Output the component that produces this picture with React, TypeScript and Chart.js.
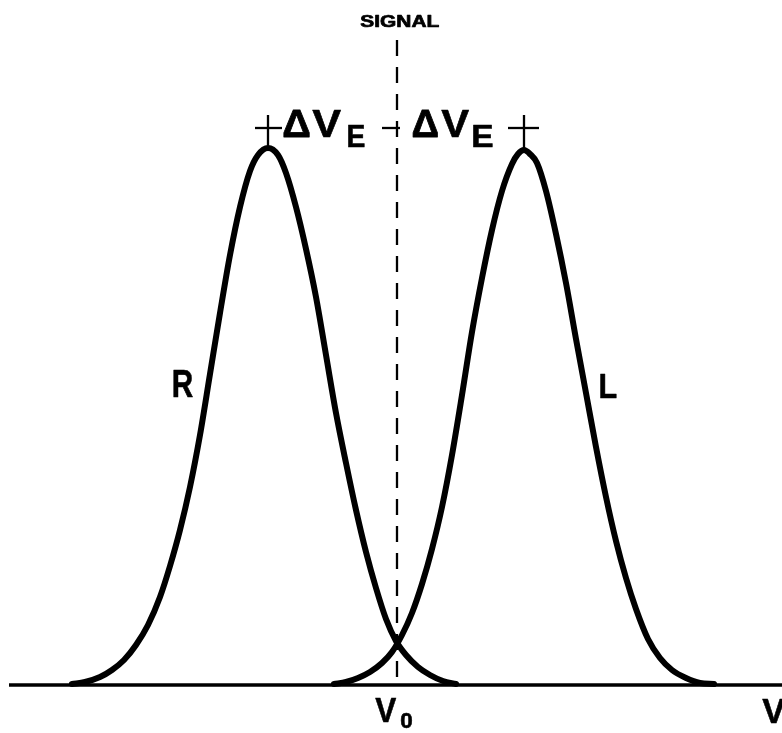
import React, { useEffect, useRef } from "react";
import { Chart, registerables } from "chart.js";

Chart.register(...registerables);

// Horizontal axis: voltage position (in drawing units); vertical: response height above baseline.
const rCurveX = [72, 85, 100, 112, 124, 136, 148, 160, 170, 180, 190, 200, 210, 220, 230, 240, 250, 258, 268, 278, 286, 296, 306, 316, 326, 336, 346, 356, 366, 376, 386, 396, 406, 418, 430, 443, 456];
const rCurveY = [1, 3, 8, 15, 25, 40, 60, 88, 119, 155, 198, 250, 311, 372, 430, 478, 514, 530, 537, 530, 512, 478, 436, 388, 330, 272, 222, 175, 133, 97, 66, 44, 30, 18, 10, 4, 1];

const lCurveX = [334, 346, 358, 370, 382, 392, 402, 412, 422, 432, 442, 452, 462, 472, 482, 492, 502, 512, 518, 524, 530, 537, 546, 556, 566, 576, 586, 596, 606, 616, 626, 636, 648, 660, 672, 686, 700, 714];
const lCurveY = [1, 3, 7, 13, 22, 33, 50, 72, 101, 136, 178, 230, 290, 353, 407, 455, 494, 521, 531, 535, 531, 522, 494, 451, 402, 346, 292, 238, 188, 144, 107, 76, 46, 27, 15, 7, 2, 1];

const axisX = [9, 782];
const axisY = [0, 0];

const signalX = [397, 397];
const signalY = [645, 0];

const peakR = 268;
const peakL = 524;
const peakRHeight = 537;
const peakLHeight = 535;

const labelSignal = "SIGNAL";
const labelDelta = "\u0394";
const labelV = "V";
const labelE = "E";
const labelR = "R";
const labelL = "L";
const labelZero = "0";

const toPts = (xs: number[], ys: number[]) => xs.map((x, i) => ({ x, y: ys[i] }));

const FONT = '"Liberation Sans", Arial, "DejaVu Sans", sans-serif';

function fitText(
  ctx: CanvasRenderingContext2D,
  text: string,
  x0: number,
  x1: number,
  yTop: number,
  yBot: number,
  weight = "bold",
  extraStroke = 0
) {
  const probe = 100;
  ctx.font = `${weight} ${probe}px ${FONT}`;
  const m = ctx.measureText(text);
  const inkH = m.actualBoundingBoxAscent + m.actualBoundingBoxDescent;
  const size = (probe * (yBot - yTop - extraStroke)) / inkH;
  ctx.font = `${weight} ${size}px ${FONT}`;
  const m2 = ctx.measureText(text);
  const inkW = m2.actualBoundingBoxLeft + m2.actualBoundingBoxRight;
  const sx = (x1 - x0 - extraStroke) / inkW;
  ctx.save();
  ctx.translate(x0 + extraStroke / 2, yBot - extraStroke / 2 - m2.actualBoundingBoxDescent);
  ctx.scale(sx, 1);
  ctx.textAlign = "left";
  ctx.textBaseline = "alphabetic";
  ctx.fillText(text, m2.actualBoundingBoxLeft, 0);
  if (extraStroke > 0) {
    ctx.lineWidth = extraStroke;
    ctx.lineJoin = "round";
    ctx.strokeText(text, m2.actualBoundingBoxLeft, 0);
  }
  ctx.restore();
}

const annotations = {
  id: "annotations",
  afterDatasetsDraw(chart: any) {
    const { ctx, scales } = chart;
    const px = (v: number) => scales.x.getPixelForValue(v);
    const py = (v: number) => scales.y.getPixelForValue(v);
    ctx.save();
    ctx.fillStyle = "#000";
    ctx.strokeStyle = "#000";
    ctx.lineCap = "butt";
    ctx.lineWidth = 2.3;

    const seg = (xa: number, ya: number, xb: number, yb: number) => {
      ctx.beginPath();
      ctx.moveTo(px(xa), py(ya));
      ctx.lineTo(px(xb), py(yb));
      ctx.stroke();
    };
    // peak markers (+)
    seg(peakR, peakRHeight, peakR, 570);
    seg(255, 557, 282, 557);
    seg(382, 557, 400, 557);
    seg(peakL, peakLHeight, peakL, 570);
    seg(508, 557, 539, 557);

    const box = (t: string, xa: number, xb: number, hTop: number, hBot: number, w = "bold", s = 0) =>
      fitText(ctx, t, px(xa), px(xb), py(hTop), py(hBot), w, s);

    box(labelSignal, 360, 440, 670, 658, "bold", 0.7);
    box(labelDelta, 283, 310, 575, 548, "bold", 0.8);
    box(labelV, 312, 342, 575, 548, "bold", 0.6);
    box(labelE, 348, 365, 560, 538, "bold", 0.6);
    box(labelDelta, 412, 438, 575, 548, "bold", 0.8);
    box(labelV, 441, 470, 575, 548, "bold", 0.6);
    box(labelE, 473, 493, 560, 538, "bold", 0.6);
    box(labelR, 173, 193, 315, 288, "bold", 0.6);
    box(labelL, 600, 617, 312, 287, "bold", 0.6);
    box(labelV, 375, 397, -12, -37, "bold", 0.6);
    box(labelZero, 400, 413, -27, -43, "bold", 0.6);
    box(labelV, 762, 786, -13, -38, "bold", 0.6);
    ctx.restore();
  },
};

export default function App() {
  const ref = useRef<HTMLCanvasElement | null>(null);
  useEffect(() => {
    if (!ref.current) return;
    const chart = new Chart(ref.current, {
      type: "line",
      data: {
        datasets: [
          {
            label: "baseline",
            data: toPts(axisX, axisY),
            borderColor: "#000",
            borderWidth: 3.5,
            pointRadius: 0,
            tension: 0,
          },
          {
            label: "signal",
            data: toPts(signalX, signalY),
            borderColor: "#000",
            borderWidth: 2.3,
            borderDash: [16, 11],
            pointRadius: 0,
            tension: 0,
          },
          {
            label: "R",
            data: toPts(rCurveX, rCurveY),
            borderColor: "#000",
            borderWidth: 6,
            pointRadius: 0,
            cubicInterpolationMode: "monotone",
            borderJoinStyle: "round",
            borderCapStyle: "round",
          },
          {
            label: "L",
            data: toPts(lCurveX, lCurveY),
            borderColor: "#000",
            borderWidth: 6,
            pointRadius: 0,
            cubicInterpolationMode: "monotone",
            borderJoinStyle: "round",
            borderCapStyle: "round",
          },
        ],
      },
      options: {
        animation: false,
        responsive: false,
        devicePixelRatio: 1,
        layout: { padding: 0 },
        scales: {
          x: { type: "linear", min: 0, max: 782, display: false },
          y: { type: "linear", min: -48, max: 685, display: false },
        },
        plugins: {
          legend: { display: false },
          tooltip: { enabled: false },
        },
        elements: { line: { fill: false } },
      },
      plugins: [annotations],
    } as any);
    return () => chart.destroy();
  }, []);

  return (
    <div style={{ position: "absolute", left: 0, top: 0, width: 782, height: 733, background: "#fff" }}>
      <canvas ref={ref} width={782} height={733} style={{ display: "block" }} />
    </div>
  );
}
